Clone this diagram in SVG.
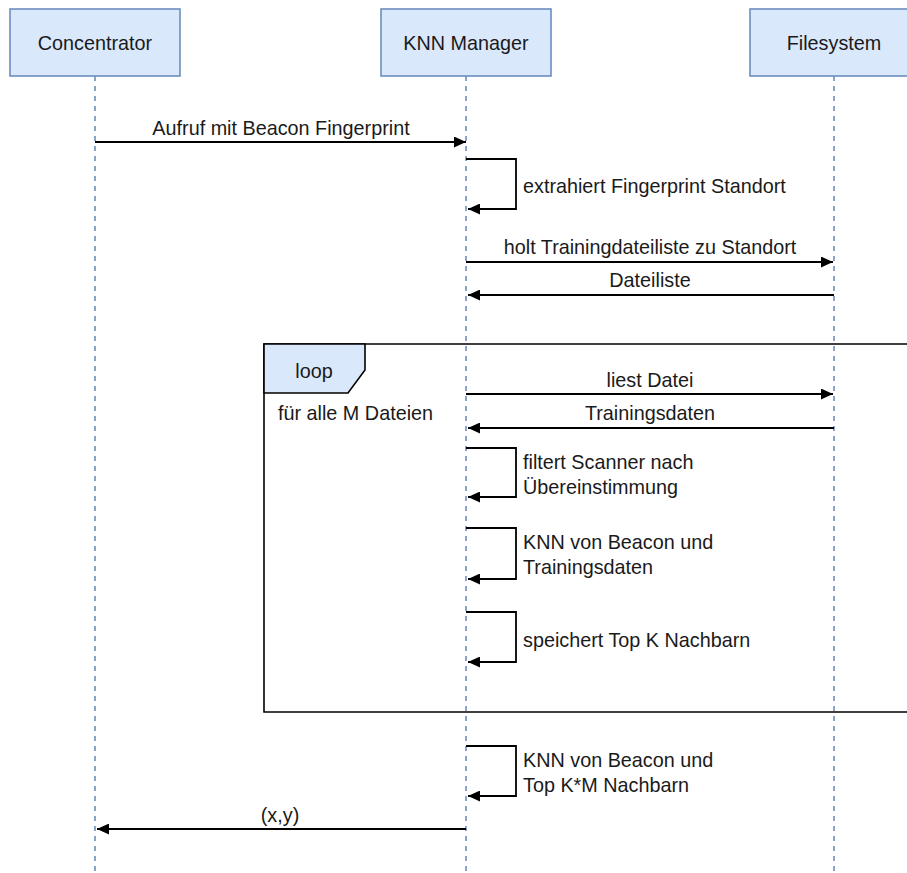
<svg xmlns="http://www.w3.org/2000/svg" width="907" height="873" viewBox="0 0 907 873">
  <style>
    text { font-family: "Liberation Sans", Arial, sans-serif; font-size: 19.8px; fill: #1a1a1a; }
    .mid { text-anchor: middle; }
    .actor rect { fill: #dae8fc; stroke: #6c8ebf; stroke-width: 1.6; }
    .life { stroke: #6c8ebf; stroke-width: 1.6; stroke-dasharray: 5 5; fill: none; }
    .msg { stroke: #000; stroke-width: 1.8; fill: none; }
    .frame { stroke: #000; stroke-width: 1.6; fill: none; }
    .tag { fill: #dae8fc; stroke: #000; stroke-width: 1.6; }
  </style>
  <defs>
    <marker id="arrow" viewBox="0 0 12 11" refX="12" refY="5.5" markerWidth="12" markerHeight="11" orient="auto" markerUnits="userSpaceOnUse">
      <path d="M0,0 L12,5.5 L0,11 Z" fill="#000"/>
    </marker>
  </defs>
  <rect width="907" height="873" fill="#fff"/>

  <!-- loop fragment -->
  <g id="loop">
    <path class="frame" d="M908,344 H264 V712 H908"/>
    <path class="tag" d="M264,344 H365 V370 L348,393 H264 Z"/>
    <text class="mid" x="314" y="378">loop</text>
    <text x="278" y="420">für alle M Dateien</text>
  </g>

  <!-- participants with lifelines -->
  <g id="concentrator" class="actor">
    <line class="life" x1="95" y1="76" x2="95" y2="873"/>
    <rect x="10" y="9" width="170" height="67"/>
    <text class="mid" x="95" y="50">Concentrator</text>
  </g>
  <g id="knn-manager" class="actor">
    <line class="life" x1="466" y1="76" x2="466" y2="873"/>
    <rect x="381" y="9" width="170" height="67"/>
    <text class="mid" x="466" y="50">KNN Manager</text>
  </g>
  <g id="filesystem" class="actor">
    <line class="life" x1="834" y1="76" x2="834" y2="873"/>
    <rect x="750" y="9" width="170" height="67"/>
    <text class="mid" x="834" y="50">Filesystem</text>
  </g>

  <!-- messages -->
  <g id="connectors">
    <path class="msg" d="M95,142 H466" marker-end="url(#arrow)"/>
    <text class="mid" x="281" y="135">Aufruf mit Beacon Fingerprint</text>

    <path class="msg" d="M466,159 H516 V209 H468" marker-end="url(#arrow)"/>
    <text x="523" y="193">extrahiert Fingerprint Standort</text>

    <path class="msg" d="M466,262 H833" marker-end="url(#arrow)"/>
    <text class="mid" x="650" y="254">holt Trainingdateiliste zu Standort</text>

    <path class="msg" d="M834,295 H468" marker-end="url(#arrow)"/>
    <text class="mid" x="650" y="287">Dateiliste</text>

    <path class="msg" d="M466,394 H833" marker-end="url(#arrow)"/>
    <text class="mid" x="650" y="387">liest Datei</text>

    <path class="msg" d="M834,428 H468" marker-end="url(#arrow)"/>
    <text class="mid" x="650" y="420">Trainingsdaten</text>

    <path class="msg" d="M466,448 H516 V497 H468" marker-end="url(#arrow)"/>
    <text x="523" y="469">filtert Scanner nach</text>
    <text x="523" y="494">Übereinstimmung</text>

    <path class="msg" d="M466,528 H516 V579 H468" marker-end="url(#arrow)"/>
    <text x="523" y="549">KNN von Beacon und</text>
    <text x="523" y="574">Trainingsdaten</text>

    <path class="msg" d="M466,612 H516 V662 H468" marker-end="url(#arrow)"/>
    <text x="523" y="647">speichert Top K Nachbarn</text>

    <path class="msg" d="M466,746 H516 V796 H468" marker-end="url(#arrow)"/>
    <text x="523" y="767">KNN von Beacon und</text>
    <text x="523" y="792">Top K*M Nachbarn</text>

    <path class="msg" d="M466,829 H97" marker-end="url(#arrow)"/>
    <text class="mid" x="280" y="822">(x,y)</text>
  </g>
</svg>
